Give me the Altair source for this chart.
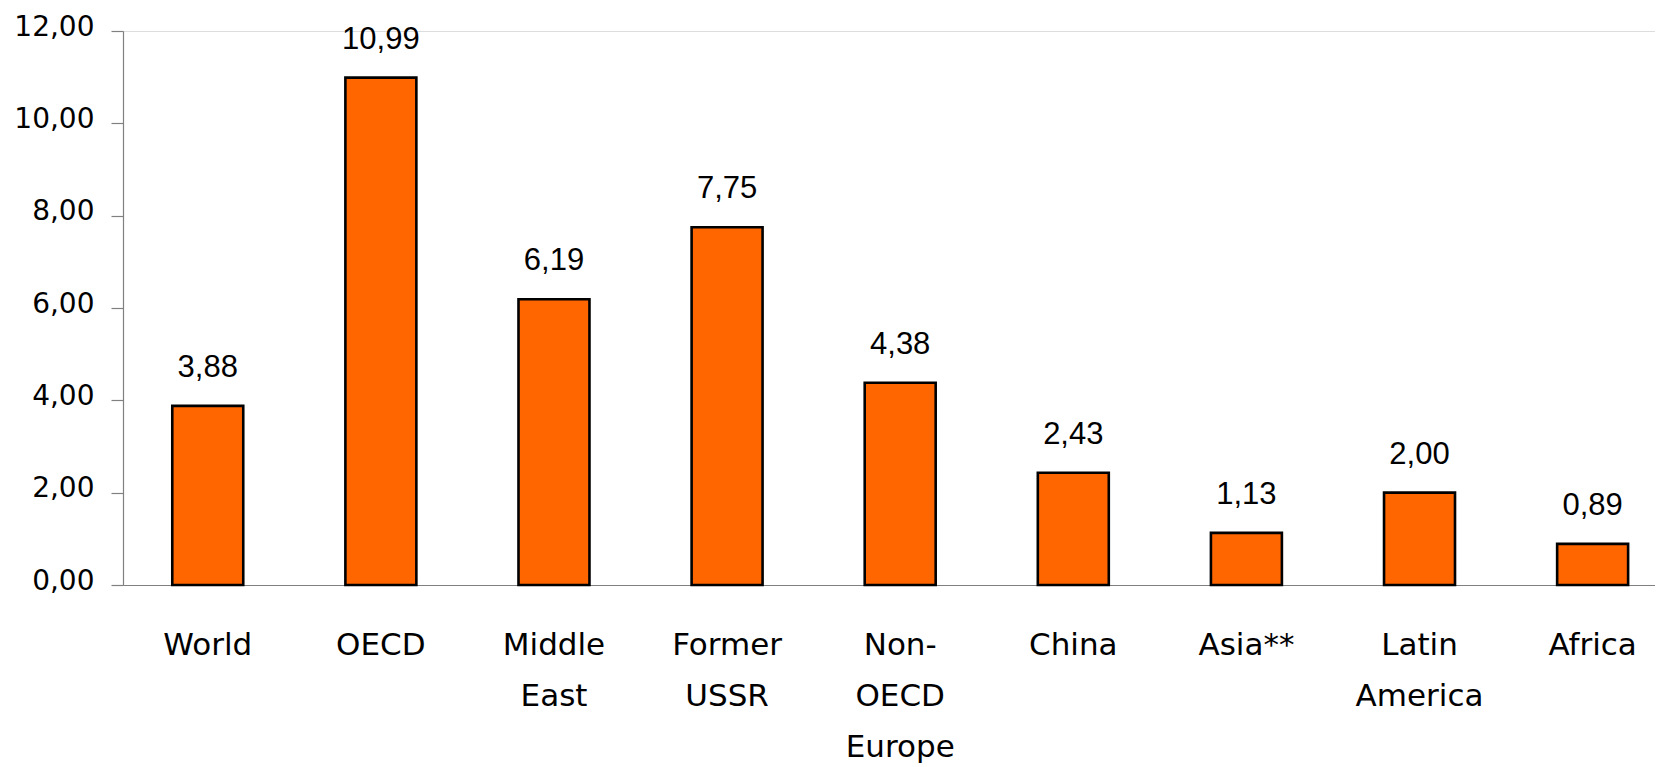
import altair as alt
import pandas as pd

categories = ["World", "OECD", "Middle East", "Former USSR", "Non-OECD Europe",
              "China", "Asia**", "Latin America", "Africa"]
values = [3.88, 10.99, 6.19, 7.75, 4.38, 2.43, 1.13, 2.00, 0.89]
label_lines = [["World"], ["OECD"], ["Middle", "East"], ["Former", "USSR"],
               ["Non-", "OECD", "Europe"], ["China"], ["Asia**"],
               ["Latin", "America"], ["Africa"]]
y_ticks = [0, 2, 4, 6, 8, 10, 12]

df = pd.DataFrame({"region": categories, "value": values})

def js_list(lst):
    return "[" + ",".join("'" + s + "'" for s in lst) + "]"

lookup = "{" + ",".join("'" + c + "':" + js_list(l) for c, l in zip(categories, label_lines)) + "}"
label_expr = lookup + "[datum.label]"

x = alt.X("region:N", sort=categories, title=None,
          scale=alt.Scale(paddingInner=0.59, paddingOuter=0.22, align=0.647),
          axis=alt.Axis(labelAngle=0, labelExpr=label_expr, labelFont="DejaVu Sans",
                        labelFontSize=31, labelColor="#000000", labelBaseline="alphabetic",
                        labelPadding=69, labelLineHeight=51, ticks=False, tickSize=0,
                        labelOverlap=False, labelLimit=400,
                        domainColor="#808080", domainWidth=1.2))
y = alt.Y("value:Q", title=None,
          scale=alt.Scale(domain=[0, 12], nice=False, zero=True),
          axis=alt.Axis(values=y_ticks, grid=False,
                        labelExpr="replace(format(datum.value, '.2f'), '.', ',')",
                        labelFont="DejaVu Sans", labelFontSize=28, labelColor="#000000",
                        labelPadding=17, labelOffset=-4, tickSize=12, tickColor="#808080",
                        tickWidth=1.2, domainColor="#808080", domainWidth=1.2))

bars = alt.Chart(df).mark_bar(color="#FF6600", stroke="#000000", strokeWidth=2.6).encode(x=x, y=y)

text = alt.Chart(df).transform_calculate(
    lab="replace(format(datum.value, '.2f'), '.', ',')"
).mark_text(font="Liberation Sans", fontSize=31, color="#000000",
            baseline="alphabetic", dy=-29).encode(
    x=alt.X("region:N", sort=categories),
    y=alt.Y("value:Q"),
    text="lab:N")

chart = alt.layer(bars, text).properties(
    width=1532, height=554,
    autosize=alt.AutoSizeParams(type="none"),
    padding={"left": 115, "top": 23, "right": 0, "bottom": 182},
).configure_view(stroke=None).configure(background="white")

chart.save("out.html", embed_options={"renderer": "svg", "actions": False})
